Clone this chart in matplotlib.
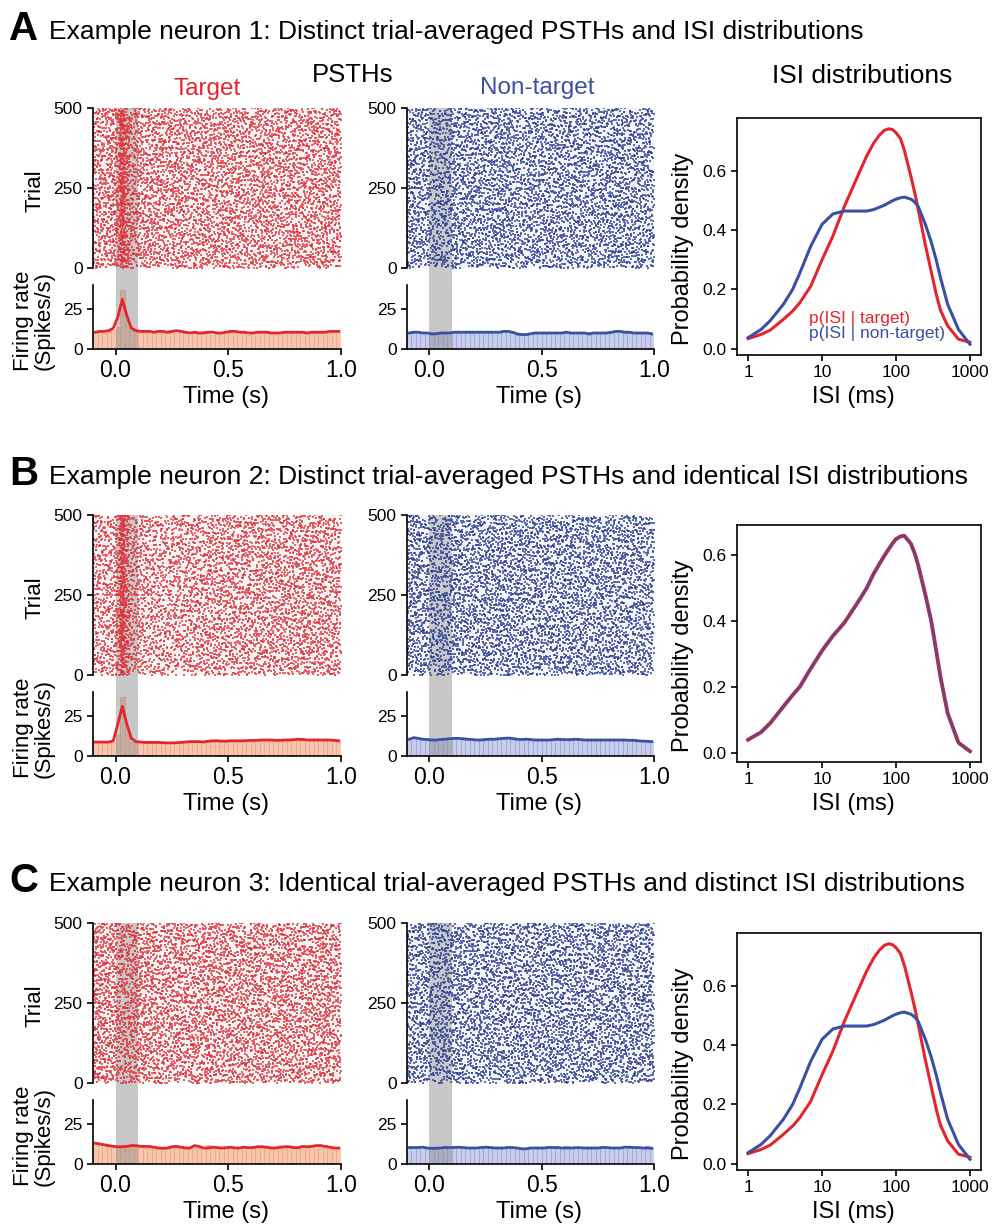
import numpy as np
import matplotlib.pyplot as plt
from matplotlib.patches import Rectangle
from matplotlib import transforms

plt.rcParams['font.family'] = ['Liberation Sans', 'DejaVu Sans']

# ---------------- data ----------------
N_TRIALS = 500
BIN = 0.02
EDGES = np.round(np.arange(-0.1, 1.0, BIN), 3)          # 55 bin left edges
CENTERS = EDGES + BIN / 2

# PSTH bar heights (spikes/s), one per 20 ms bin
bars_A_target = [10, 11, 10, 11, 12, 14, 37, 18, 11, 11,
                 11, 10, 11, 10, 11, 10, 10, 11, 10, 11, 10, 9, 10, 10, 11,
                 10, 9, 10, 10, 11, 10, 10, 11, 10, 9, 10, 10, 11, 11, 10,
                 10, 9, 10, 10, 11, 10, 10, 10, 11, 10, 10, 11, 10, 11, 11]
bars_A_nontarget = [10, 11, 10, 10, 10, 9, 10, 10, 10, 10,
                    11, 10, 11, 10, 10, 11, 10, 10, 10, 11, 10, 11, 11, 10, 9,
                    9, 9, 10, 10, 10, 10, 10, 10, 10, 10, 10, 10, 10, 10, 10,
                    9, 10, 10, 10, 10, 10, 11, 11, 10, 10, 10, 10, 10, 10, 9]
bars_B_target = [9, 9, 9, 9, 9, 13, 37, 17, 9, 9,
                 9, 9, 8, 9, 8, 8, 8, 8, 9, 8, 9, 9, 9, 9, 9,
                 10, 9, 10, 10, 9, 10, 10, 9, 10, 10, 9, 10, 10, 10, 10,
                 10, 9, 10, 10, 10, 10, 11, 10, 10, 10, 10, 10, 10, 10, 9]
bars_B_nontarget = [11, 11, 11, 10, 10, 10, 10, 10, 10, 11,
                    11, 11, 10, 10, 10, 10, 10, 11, 10, 10, 11, 11, 11, 10, 10,
                    11, 10, 10, 10, 10, 10, 10, 10, 10, 10, 10, 11, 10, 10, 10,
                    10, 10, 10, 10, 10, 10, 10, 10, 10, 10, 10, 10, 10, 9, 9]
bars_C_target = [13, 12, 12, 11, 11, 11, 11, 11, 11, 12,
                 11, 11, 11, 11, 10, 10, 10, 10, 11, 11, 10, 10, 11, 10, 10,
                 12, 11, 10, 10, 10, 11, 10, 10, 11, 10, 10, 11, 11, 10, 10,
                 10, 11, 11, 11, 10, 10, 11, 10, 11, 11, 11, 12, 11, 10, 10]
bars_C_nontarget = [10, 10, 10, 11, 10, 10, 10, 10, 11, 10,
                    10, 11, 10, 10, 10, 10, 10, 11, 10, 10, 10, 10, 11, 10, 10,
                    10, 10, 10, 10, 10, 10, 11, 10, 10, 10, 11, 10, 10, 10, 10,
                    10, 10, 10, 11, 10, 10, 10, 10, 11, 10, 10, 10, 10, 11, 10]

# smoothed firing-rate line (spikes/s) at the bin centres
rate_A_target = [10.5, 11, 11, 11.5, 13, 20, 31, 21, 13, 11.5,
                 11, 11, 11, 10.5, 11, 11, 10.5, 11, 11.5, 11, 10.5, 10, 10.5, 10, 10,
                 10.5, 10.5, 10, 10, 10.5, 11, 11, 10.5, 10.5, 10, 10, 10.5, 10.5, 10.5, 10,
                 10, 10, 10.5, 10.5, 10.5, 10.5, 10.5, 10, 10.5, 10.5, 10.5, 10.5, 11, 11, 11]
rate_A_nontarget = [10, 10.5, 10.5, 10, 10, 9.5, 9.5, 10, 10, 10,
                    10.5, 10.5, 10.5, 10.5, 10.5, 10.5, 10.5, 10.5, 10.5, 10.5, 10.5, 11, 11, 10.5, 9.5,
                    9, 9, 9.5, 10, 10, 10, 10, 10, 10, 10, 10.5, 10, 10, 10, 10,
                    9.5, 10, 10, 10, 10, 10.5, 11, 11, 10.5, 10.5, 10, 10, 10, 10, 9.5]
rate_B_target = [8.7, 8.7, 8.7, 8.7, 9.5, 20, 31, 20, 11, 9,
                 8.7, 8.5, 8.5, 8.5, 8.5, 8.3, 8.2, 8.2, 8.3, 8.5, 8.7, 9, 9, 9, 8.8,
                 9.2, 9.5, 9.5, 9.3, 9.3, 9.5, 9.5, 9.5, 9.5, 9.7, 9.7, 9.8, 10, 10, 10,
                 9.8, 9.8, 10, 10, 10.2, 10.5, 10.3, 10, 10, 10, 10, 10, 10, 9.8, 9.5]
rate_B_nontarget = [10.5, 11.5, 11, 10.5, 10.3, 10, 10, 10.3, 10.5, 10.8,
                    11, 11, 10.8, 10.5, 10.3, 10, 10, 10.3, 10.5, 10.5, 10.8, 11, 11.2, 11, 10.5,
                    10.3, 10.5, 10.3, 10, 10, 10, 10, 10.2, 10.5, 10.3, 10.2, 10.2, 10.5, 10.3, 10,
                    10, 10, 10, 10, 10, 10, 10, 10, 10, 9.8, 9.8, 9.5, 9.3, 9.2, 9]
rate_C_target = [13, 12.5, 12, 11.5, 11, 10.8, 10.8, 11, 11.5, 11.5,
                 11, 11, 11, 10.5, 10, 9.8, 10, 10.8, 11, 10.5, 10, 10, 11.5, 11, 10,
                 10, 10.5, 10.3, 10, 10.2, 10.5, 10, 10, 10.5, 10.2, 10.3, 10.8, 10.8, 10.5, 10,
                 10, 10.5, 10.8, 10.8, 10.3, 10.2, 11, 10.8, 11, 11.5, 11.5, 11, 10.5, 10, 10]
rate_C_nontarget = [10.3, 10.3, 10.3, 10.5, 10, 9.8, 9.8, 10, 10.3, 10.3,
                    10.3, 10.5, 10.3, 10, 10, 10, 10.3, 10.5, 10.3, 10, 10, 10, 10.3, 10.3, 10,
                    9.5, 9.5, 10, 10, 10, 10, 10.3, 10.3, 10.3, 10, 10, 10, 10.2, 10.2, 10,
                    10, 10, 10, 10.3, 10.3, 10, 10, 10, 10.5, 10.5, 10.3, 10.3, 10, 10, 9.8]

# ISI densities (log-spaced ISI axis, ms)
isi_ms = [1, 1.5, 2, 3, 4, 5, 7, 10, 14, 20, 30, 40, 50, 60, 70, 80, 90,
          100, 115, 130, 160, 180, 200, 250, 300, 350, 400, 500, 700, 1000]
isi_bimodal_target = [0.034, 0.048, 0.063, 0.099, 0.127, 0.155, 0.21, 0.30, 0.38, 0.48,
                      0.58, 0.65, 0.695, 0.722, 0.738, 0.743, 0.74, 0.73, 0.71, 0.67,
                      0.58, 0.525, 0.47, 0.35, 0.26, 0.185, 0.13, 0.077, 0.032, 0.022]
isi_bimodal_nontarget = [0.037, 0.065, 0.095, 0.15, 0.20, 0.255, 0.345, 0.42, 0.455, 0.465,
                         0.465, 0.465, 0.47, 0.478, 0.485, 0.493, 0.50, 0.505, 0.51, 0.512,
                         0.505, 0.495, 0.48, 0.42, 0.36, 0.30, 0.24, 0.15, 0.065, 0.015]
isi_shared = [0.039, 0.062, 0.09, 0.14, 0.175, 0.20, 0.255, 0.31, 0.355, 0.395,
              0.455, 0.50, 0.545, 0.575, 0.60, 0.62, 0.637, 0.65, 0.658, 0.66,
              0.635, 0.605, 0.57, 0.48, 0.40, 0.31, 0.23, 0.12, 0.03, 0.004]

titles = ['Example neuron 1: Distinct trial-averaged PSTHs and ISI distributions',
          'Example neuron 2: Distinct trial-averaged PSTHs and identical ISI distributions',
          'Example neuron 3: Identical trial-averaged PSTHs and distinct ISI distributions']
letters = ['A', 'B', 'C']

RED = '#e5252d'
BLUE = '#3a51a3'
BAND = '#c8c8c8'

# ---------------- figure ----------------
W, H = 992, 1228
fig = plt.figure(figsize=(W / 100, H / 100), dpi=100)


def box(x0, y0, x1, y1):
    # axes from pixel corners (top-left origin)
    return fig.add_axes([x0 / W, 1 - y1 / H, (x1 - x0) / W, (y1 - y0) / H])


def ftext(x, y, s, **kw):
    fig.text(x / W, 1 - y / H, s, **kw)


def radical_inverse(k, base):
    out = np.zeros(len(k))
    f = 1.0 / base
    k = k.copy()
    while np.any(k > 0):
        out += f * (k % base)
        k //= base
        f /= base
    return out


def spikes_from_bars(bars, start):
    # spread the spike counts of the bins over time and trials
    counts = np.round(np.asarray(bars) * BIN * N_TRIALS).astype(int)
    n = counts.sum()
    k = np.arange(start, start + n)
    u = radical_inverse(k, 2)
    v = (radical_inverse(k, 3) + 0.5 * radical_inverse(k, 5)) % 1
    cum = np.cumsum(counts) / n
    idx = np.minimum(np.searchsorted(cum, u, side='right'), len(counts) - 1)
    prev = np.concatenate([[0], cum])[idx]
    frac = (u - prev) / (counts[idx] / n)
    t = EDGES[idx] + BIN * frac
    trial = np.floor(v * N_TRIALS) + 0.5
    return t, trial


def style(ax, size=12.5):
    for s in ax.spines.values():
        s.set_linewidth(1.2)
    ax.tick_params(labelsize=size, length=4, width=1.2)


def raster_psth(x0, x1, top, bars, rate, col, face, edge, dot, start):
    ra = box(x0, top, x1, top + 160)
    pa = box(x0, top + 177, x1, top + 241)

    t, tr = spikes_from_bars(bars, start)
    ra.axhspan(0, N_TRIALS, color='#f5f5f5', lw=0, zorder=0)
    ra.axvspan(0, 0.1, color=BAND, lw=0, zorder=1)
    ra.scatter(t, tr, s=1.3, marker='s', c=dot, linewidths=0, alpha=0.75, zorder=2)
    ra.set_xlim(-0.1, 1.0)
    ra.set_ylim(0, N_TRIALS)
    ra.set_yticks([0, 250, 500])
    for s in ['top', 'right', 'bottom']:
        ra.spines[s].set_visible(False)
    ra.set_xticks([])
    style(ra)

    pa.bar(EDGES, bars, width=BIN, align='edge', color=face,
           edgecolor=edge, linewidth=0.6, zorder=1)
    pa.axvspan(0, 0.1, color='#919191', alpha=0.5, lw=0, zorder=2)
    pa.plot(CENTERS, rate, color=col, lw=2, zorder=3)
    pa.set_xlim(-0.1, 1.0)
    pa.set_ylim(0, 40)
    pa.set_yticks([0, 25])
    pa.set_xticks([0.0, 0.5, 1.0])
    pa.set_xticklabels(['0.0', '0.5', '1.0'])
    for s in ['top', 'right']:
        pa.spines[s].set_visible(False)
    style(pa)
    pa.tick_params(axis='x', labelsize=16.5)

    # stimulus window bridging the gap between the two axes
    tr_b = transforms.blended_transform_factory(ra.transData, fig.transFigure)
    fig.add_artist(Rectangle((0, 1 - (top + 178) / H), 0.1, 19 / H, transform=tr_b,
                             facecolor=BAND, lw=0, zorder=-1))

    ftext((x0 + x1) / 2 + 9, top + 289, 'Time (s)', ha='center', va='center', fontsize=17)
    return ra, pa


def isi_panel(x0, top, curves):
    ax = box(x0, top, 981, top + 237)
    for y, c, kw in curves:
        ax.plot(isi_ms, y, color=c, **kw)
    ax.set_xscale('log')
    ax.set_xticks([1, 10, 100, 1000])
    ax.set_xticklabels(['1', '10', '100', '1000'])
    ax.minorticks_off()
    ax.set_yticks([0.0, 0.2, 0.4, 0.6])
    ax.set_yticklabels(['0.0', '0.2', '0.4', '0.6'])
    style(ax)
    ftext(683, top + 131, 'Probability density', rotation=90, ha='center', va='center', fontsize=17)
    ftext(853, top + 279, 'ISI (ms)', ha='center', va='center', fontsize=17)
    return ax


offsets = [0, 407, 815]
baselines = [39, 484, 891]
all_bars = [(bars_A_target, bars_A_nontarget), (bars_B_target, bars_B_nontarget),
            (bars_C_target, bars_C_nontarget)]
all_rates = [(rate_A_target, rate_A_nontarget), (rate_B_target, rate_B_nontarget),
             (rate_C_target, rate_C_nontarget)]

for p in range(3):
    off = offsets[p]
    top = 108 + off
    ftext(9, baselines[p] + 1, letters[p], fontsize=29, fontweight='bold', va='baseline')
    ftext(49, baselines[p], titles[p], fontsize=19, va='baseline')

    bt, bn = all_bars[p]
    rt, rn = all_rates[p]
    raster_psth(93, 341, top, bt, rt, RED, '#f8c6ad', '#e9a98d', '#e2323b', 20 + 7000 * p)
    raster_psth(407, 654, top, bn, rn, BLUE, '#c8cdec', '#9ea6d8', '#2d4196', 3000 + 7000 * p)

    ftext(35, top + 83, 'Trial', rotation=90, ha='center', va='center', fontsize=16)
    ftext(34, top + 213, 'Firing rate\n(Spikes/s)', rotation=90, ha='center',
          va='center', fontsize=16, linespacing=0.95)

    if p == 1:
        isi_panel(737, top + 10, [
            (isi_shared, RED, dict(lw=2.8)),
            (isi_shared, BLUE, dict(lw=1.8, alpha=0.75)),
        ])
    else:
        ax = isi_panel(737, top + 10, [
            (isi_bimodal_target, RED, dict(lw=2.2)),
            (isi_bimodal_nontarget, BLUE, dict(lw=2.2)),
        ])
        if p == 0:
            ax.text(0.295, 0.156, 'p(ISI | target)', color=RED, fontsize=12.5,
                    va='center', transform=ax.transAxes)
            ax.text(0.295, 0.091, 'p(ISI | non-target)', color=BLUE, fontsize=12.5,
                    va='center', transform=ax.transAxes)

# column headers of panel A
ftext(353, 82, 'PSTHs', ha='center', va='baseline', fontsize=18.5)
ftext(207, 95, 'Target', ha='center', va='baseline', fontsize=17.5, color=RED)
ftext(537, 94, 'Non-target', ha='center', va='baseline', fontsize=17.5, color=BLUE)
ftext(862, 83, 'ISI distributions', ha='center', va='baseline', fontsize=19)

fig.savefig('out.png', dpi=100)
